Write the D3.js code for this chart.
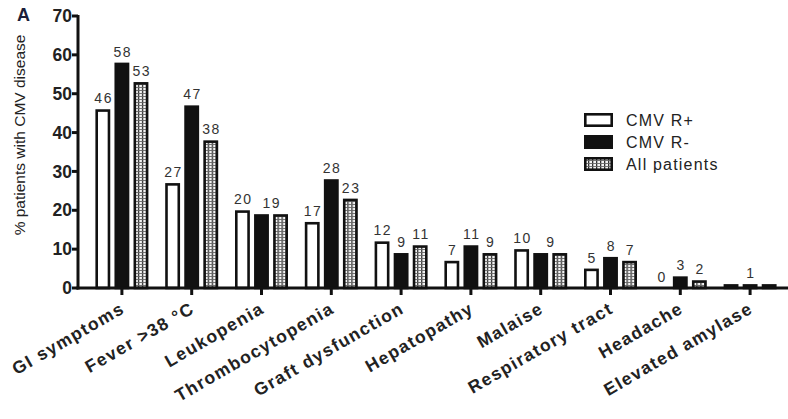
<!DOCTYPE html>
<html>
<head>
<meta charset="utf-8">
<script src="https://cdn.jsdelivr.net/npm/d3@7"></script>
<style>
  body { margin: 0; background: #fff; }
  svg { display: block; font-family: "Liberation Sans", Arial, sans-serif; }
</style>
</head>
<body>
<div id="chart"></div>
<script>
// Symptom categories along the x axis
const categories = ["GI symptoms", "Fever >38 \u00B0C", "Leukopenia", "Thrombocytopenia",
    "Graft dysfunction", "Hepatopathy", "Malaise", "Respiratory tract", "Headache", "Elevated amylase"];

// % patients with CMV disease, per series
const seriesNames = ["CMV R+", "CMV R-", "All patients"];
const cmvRPos = [46, 27, 20, 17, 12, 7, 10, 5, 0, 1];
const cmvRNeg = [58, 47, 19, 28, 9, 11, 9, 8, 3, 1];
const allPatients = [53, 38, 19, 23, 11, 9, 9, 7, 2, 1];

const yTicks = [0, 10, 20, 30, 40, 50, 60, 70];

const width = 788, height = 419;

const svg = d3.select("#chart").append("svg")
    .attr("width", width)
    .attr("height", height);

// Hatch pattern for "All patients"
const defs = svg.append("defs");
const pat = defs.append("pattern")
    .attr("id", "hatch")
    .attr("patternUnits", "userSpaceOnUse")
    .attr("width", 4)
    .attr("height", 3);
pat.append("rect").attr("width", 4).attr("height", 3).attr("fill", "#f4f4f4");
pat.append("rect").attr("x", 0).attr("y", 0).attr("width", 1.3).attr("height", 3).attr("fill", "#333");
pat.append("rect").attr("x", 0).attr("y", 0).attr("width", 4).attr("height", 0.9).attr("fill", "#666");

const fills = ["#fff", "#111", "url(#hatch)"];

// Scales
const x0 = d3.scalePoint()
    .domain(categories)
    .range([87, 785])
    .padding(0.5);

const x1 = d3.scaleBand()
    .domain(seriesNames)
    .range([-26.5, 26.5])
    .paddingInner(0.22);

const y = d3.scaleLinear()
    .domain([0, 70])
    .range([288, 16]);

const axisX = 78;

// Build rows
const rows = categories.map((c, i) => ({
    cat: c,
    vals: [cmvRPos[i], cmvRNeg[i], allPatients[i]]
}));

// Bars
const sw = 2.6;
const groups = svg.append("g").selectAll("g")
    .data(rows)
    .enter().append("g")
    .attr("transform", d => `translate(${x0(d.cat)},0)`);

groups.selectAll("rect")
    .data(d => d.vals.map((v, k) => ({ v: v, k: k })))
    .enter().append("rect")
    .filter(d => d.v > 0)
    .attr("x", d => x1(seriesNames[d.k]) + sw / 2)
    .attr("width", x1.bandwidth() - sw)
    .attr("y", d => y(d.v) + sw / 2)
    .attr("height", d => Math.max(0, y(0) - y(d.v) - sw / 2))
    .attr("fill", d => fills[d.k])
    .attr("stroke", "#111")
    .attr("stroke-width", sw);

// Value labels: equal neighbouring values share one label
groups.each(function (d) {
    const g = d3.select(this);
    let k = 0;
    while (k < d.vals.length) {
        let j = k;
        while (j + 1 < d.vals.length && d.vals[j + 1] === d.vals[k]) j++;
        const xa = x1(seriesNames[k]) + x1.bandwidth() / 2;
        const xb = x1(seriesNames[j]) + x1.bandwidth() / 2;
        g.append("text")
            .attr("x", (xa + xb) / 2 + 0.8)
            .attr("y", y(d.vals[k]) - 6)
            .attr("text-anchor", "middle")
            .attr("font-size", 14)
            .attr("letter-spacing", 1.5)
            .attr("fill", "#333")
            .text(d.vals[k]);
        k = j + 1;
    }
});

// Y axis
svg.append("line")
    .attr("x1", axisX).attr("x2", axisX)
    .attr("y1", y(70) - 1).attr("y2", y(0) + 1.5)
    .attr("stroke", "#111").attr("stroke-width", 3);

const yt = svg.append("g").selectAll("g")
    .data(yTicks)
    .enter().append("g")
    .attr("transform", d => `translate(0,${y(d)})`);
yt.append("line")
    .attr("x1", axisX - 6).attr("x2", axisX)
    .attr("stroke", "#111").attr("stroke-width", 3);
yt.append("text")
    .attr("x", axisX - 6)
    .attr("dy", "0.35em")
    .attr("text-anchor", "end")
    .attr("font-size", 17.5)
    .attr("font-weight", "bold")
    .attr("fill", "#222")
    .text(d => d);

// X axis
svg.append("line")
    .attr("x1", axisX - 1.5).attr("x2", width)
    .attr("y1", y(0)).attr("y2", y(0))
    .attr("stroke", "#111").attr("stroke-width", 3);

svg.append("g").selectAll("line")
    .data(categories)
    .enter().append("line")
    .attr("x1", d => x0(d)).attr("x2", d => x0(d))
    .attr("y1", y(0)).attr("y2", y(0) + 7)
    .attr("stroke", "#111").attr("stroke-width", 3);

svg.append("g").selectAll("text")
    .data(categories)
    .enter().append("text")
    .attr("transform", d => `translate(${x0(d) + 4},${y(0) + 24}) rotate(-30)`)
    .attr("text-anchor", "end")
    .attr("font-size", 17.5)
    .attr("font-weight", "bold")
    .attr("letter-spacing", 1.4)
    .attr("fill", "#222")
    .text(d => d);

// Y axis title
svg.append("text")
    .attr("transform", `translate(25,135) rotate(-90)`)
    .attr("text-anchor", "middle")
    .attr("font-size", 15.5)
    .attr("fill", "#222")
    .text("% patients with CMV disease");

// Panel letter
svg.append("text")
    .attr("x", 17).attr("y", 21)
    .attr("font-size", 18)
    .attr("font-weight", "bold")
    .attr("fill", "#1b1f3a")
    .text("A");

// Legend
const legend = svg.append("g").attr("transform", "translate(584,113)");
const li = legend.selectAll("g")
    .data(seriesNames)
    .enter().append("g")
    .attr("transform", (d, i) => `translate(0,${i * 22})`);
li.append("rect")
    .attr("x", sw / 2).attr("y", sw / 2)
    .attr("width", 29 - sw).attr("height", 14 - sw)
    .attr("fill", (d, i) => fills[i])
    .attr("stroke", "#111")
    .attr("stroke-width", sw);
li.append("text")
    .attr("x", 42).attr("y", 13)
    .attr("font-size", 16)
    .attr("letter-spacing", 1.2)
    .attr("fill", "#222")
    .text(d => d);
</script>
</body>
</html>
